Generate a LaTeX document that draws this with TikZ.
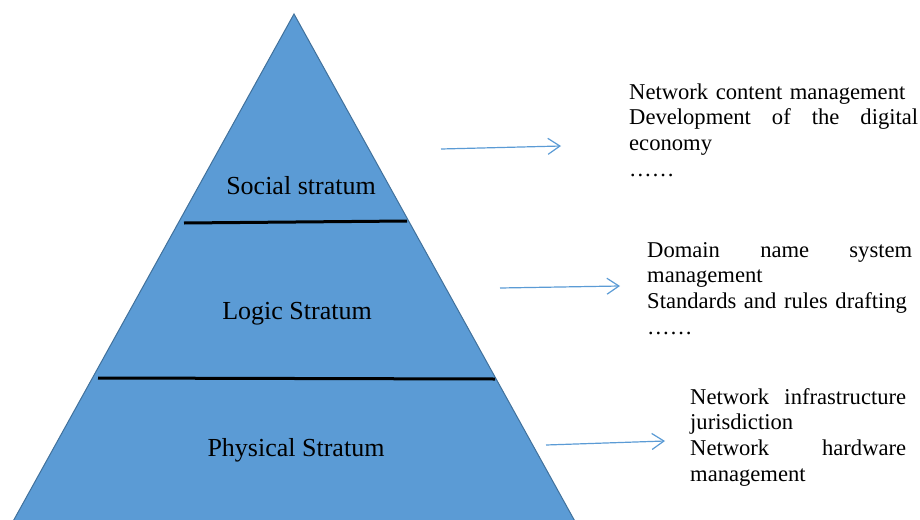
\documentclass[tikz,border=0pt]{standalone}
\usepackage{fontspec}
\setmainfont{Liberation Serif}
\usetikzlibrary{arrows.meta}
\definecolor{pyrfill}{HTML}{5B9BD5}
\definecolor{pyredge}{HTML}{41719C}
\definecolor{arrowblue}{HTML}{5B9BD5}
\begin{document}
\begin{tikzpicture}[x=1pt,y=-1pt,
  layer/.style={font=\fontsize{26}{30}\selectfont, inner sep=0pt, anchor=base},
  note/.style={font=\fontsize{22.6}{25.7}\selectfont, inner sep=0pt, anchor=base west, align=left},
  link/.style={arrowblue, line width=1.2pt, -{Straight Barb[length=12pt,width=16pt,line width=1.2pt]}},
  divider/.style={black, line width=3pt}
]
\useasboundingbox (0,0) rectangle (920,519);
\clip (0,0) rectangle (920,519);
% pyramid
\filldraw[fill=pyrfill, draw=pyredge, line width=1pt] (294,14) -- (577,525) -- (11,525) -- cycle;
\draw[divider] (184,223) -- (407,221);
\draw[divider] (98,378) -- (495,379);
% layer labels
\node[layer] (social) at (301,194) {Social stratum};
\node[layer] (logic) at (297,319) {Logic Stratum};
\node[layer] (physical) at (296,456) {Physical Stratum};
% notes
\node[note, text width=289pt] (n1) at (629,99) {Network content management\\
\makebox[289pt]{Development\hfill of\hfill the\hfill digital}\\
economy\\
……};
\node[note, text width=265pt] (n2) at (647,257) {\makebox[265pt]{Domain\hfill name\hfill system}\\
management\\
Standards and rules drafting\\
……};
\node[note, text width=216pt] (n3) at (690,404) {\makebox[216pt]{Network\hfill infrastructure}\\
jurisdiction\\
\makebox[216pt]{Network\hfill hardware}\\
management};
% arrows
\coordinate (a1s) at (441,149);
\coordinate (a1e) at (561,146);
\coordinate (a2s) at (500,288);
\coordinate (a2e) at (620,286);
\coordinate (a3s) at (546,445);
\coordinate (a3e) at (665,441);
\draw[link] (a1s) -- (a1e);
\draw[link] (a2s) -- (a2e);
\draw[link] (a3s) -- (a3e);
\end{tikzpicture}
\end{document}
